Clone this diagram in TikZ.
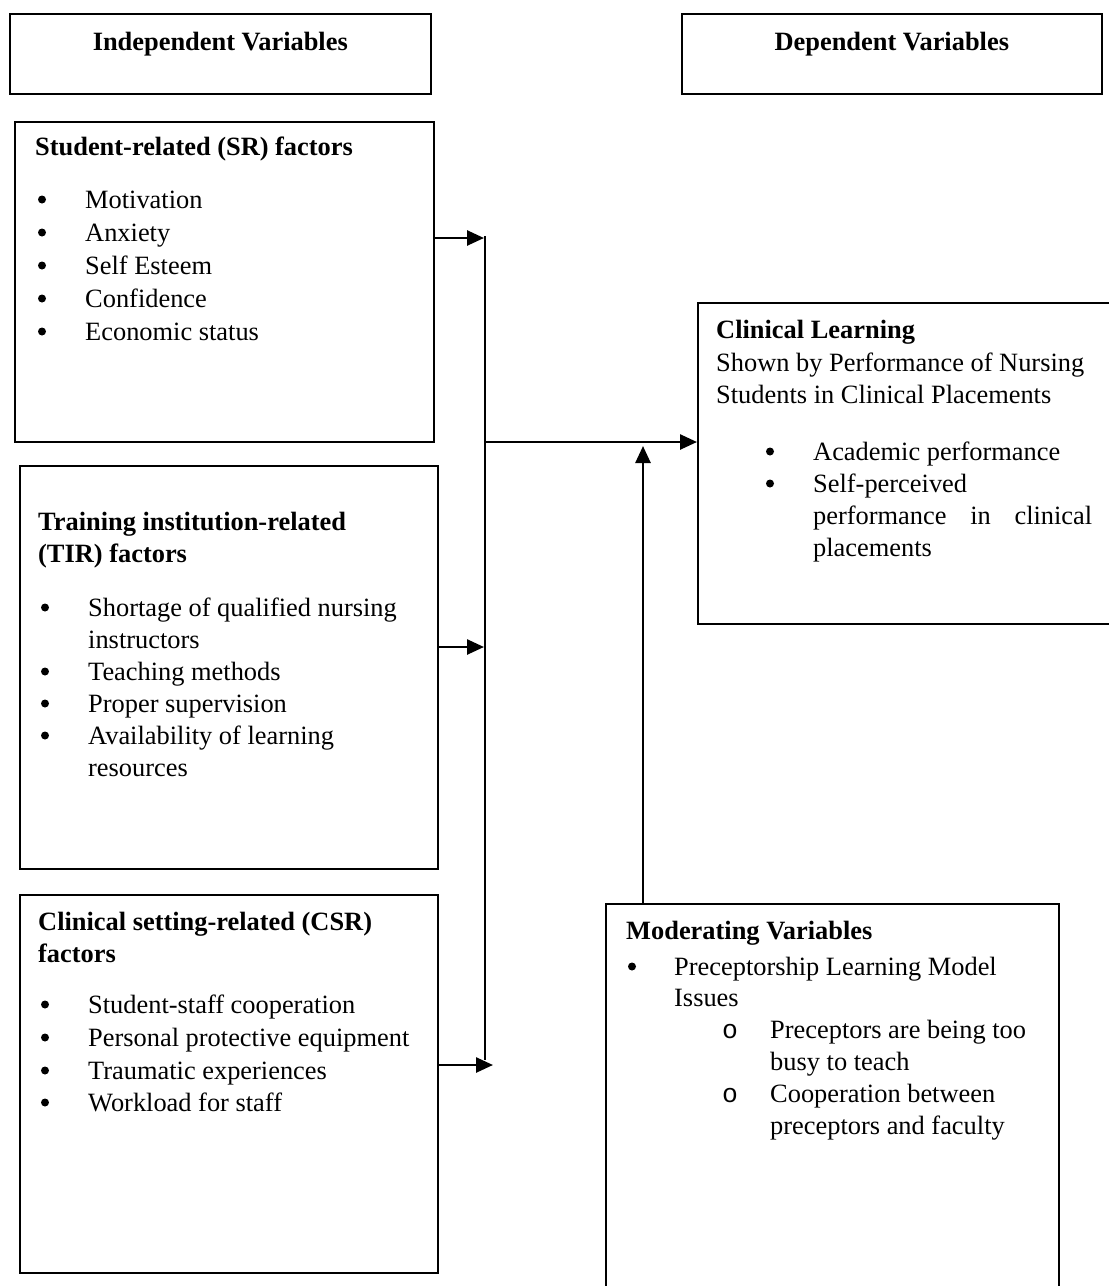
\documentclass[tikz,border=0pt]{standalone}
\usepackage{fontspec}
\setmainfont{Liberation Serif}
\newfontfamily\monof{Liberation Mono}
\usetikzlibrary{arrows.meta,calc}
\tikzset{
  boxn/.style={draw, line width=1.6pt, inner sep=0pt, anchor=north west},
  txt/.style={anchor=base west, inner sep=0pt, font=\fontsize{26.4}{33}\selectfont},
  hd/.style={anchor=base west, inner sep=0pt, font=\fontsize{26.4}{33}\selectfont\bfseries},
  hdc/.style={anchor=base, inner sep=0pt, font=\fontsize{26.4}{33}\selectfont\bfseries},
  dot/.style={circle, fill=black, inner sep=0pt, minimum size=8pt},
  arr/.style={line width=2.6pt, -{Triangle[length=17pt,width=15pt]}},
  bus/.style={line width=2pt}
}
\newcommand\bitem[5]{\node[dot] (#1b) at ($(#2,#4)+(4,-8.5)$) {}; \node[txt] (#1) at (#3,#4) {#5};}
\newcommand\oitem[5]{\node[txt] (#1b) at (#2,#4) {\monof o}; \node[txt] (#1) at (#3,#4) {#5};}
\begin{document}
\begin{tikzpicture}[x=1pt,y=-1pt]
\fill[white] (0,0) rectangle (1109,1286);
\useasboundingbox (0,0) rectangle (1109,1286);
\clip (0,0) rectangle (1109,1286);

% header boxes
\node[boxn, minimum width=421pt, minimum height=80pt] (ind) at (9,13) {};
\node[hdc] (indt) at ($(ind.north)+(0,37)$) {Independent Variables};
\node[boxn, minimum width=420pt, minimum height=80pt] (dep) at (681,13) {};
\node[hdc] (dept) at ($(dep.north)+(0,37)$) {Dependent Variables};

% SR box
\node[boxn, minimum width=419pt, minimum height=320pt] (sr) at (14,121) {};
\node[hd] (srh) at (35,155) {Student-related (SR) factors};
\bitem{sr1}{38}{85}{208}{Motivation}
\bitem{sr2}{38}{85}{241}{Anxiety}
\bitem{sr3}{38}{85}{274}{Self Esteem}
\bitem{sr4}{38}{85}{307}{Confidence}
\bitem{sr5}{38}{85}{340}{Economic status}

% TIR box
\node[boxn, minimum width=418pt, minimum height=403pt] (tir) at (19,465) {};
\node[hd] (tih1) at (38,530) {Training institution-related};
\node[hd] (tih2) at (38,562) {(TIR) factors};
\bitem{ti1}{41}{88}{616}{Shortage of qualified nursing}
\node[txt] (ti1c) at (88,648) {instructors};
\bitem{ti2}{41}{88}{680}{Teaching methods}
\bitem{ti3}{41}{88}{712}{Proper supervision}
\bitem{ti4}{41}{88}{744}{Availability of learning}
\node[txt] (ti4c) at (88,776) {resources};

% CSR box
\node[boxn, minimum width=418pt, minimum height=378pt] (csr) at (19,894) {};
\node[hd] (csh1) at (38,930) {Clinical setting-related (CSR)};
\node[hd] (csh2) at (38,962) {factors};
\bitem{cs1}{41}{88}{1013}{Student-staff cooperation}
\bitem{cs2}{41}{88}{1046}{Personal protective equipment}
\bitem{cs3}{41}{88}{1079}{Traumatic experiences}
\bitem{cs4}{41}{88}{1111}{Workload for staff}

% Clinical learning box
\node[boxn, minimum width=420pt, minimum height=321pt] (cl) at (697,302) {};
\node[hd] (clh) at (716,338) {Clinical Learning};
\node[txt] (cl1) at (716,371) {Shown by Performance of Nursing};
\node[txt] (cl2) at (716,403) {Students in Clinical Placements};
\bitem{cb1}{766}{813}{460}{Academic performance}
\bitem{cb2}{766}{813}{492}{Self-perceived}
\node[txt] (cb2c) at (813,524) {\makebox[279pt][s]{performance in clinical}};
\node[txt] (cb2d) at (813,556) {placements};

% Moderating box
\node[boxn, minimum width=453pt, minimum height=400pt] (mod) at (605,903) {};
\node[hd] (modh) at (626,939) {Moderating Variables};
\bitem{mo1}{628}{674}{975}{Preceptorship Learning Model}
\node[txt] (mo1c) at (674,1006) {Issues};
\oitem{mo2}{722}{770}{1038}{Preceptors are being too}
\node[txt] (mo2c) at (770,1070) {busy to teach};
\oitem{mo3}{722}{770}{1102}{Cooperation between}
\node[txt] (mo3c) at (770,1134) {preceptors and faculty};

% connectors
\coordinate (bt) at (485,236);
\coordinate (bb) at (485,1060);
\coordinate (j1) at (484,238);
\coordinate (j2) at (484,647);
\coordinate (j3) at (493,1065);
\coordinate (h0) at (486,442);
\coordinate (u) at (643,446);
\draw[bus] (bt) -- (bb);
\draw[arr] (sr.east |- j1) -- (j1);
\draw[arr] (tir.east |- j2) -- (j2);
\draw[arr] (csr.east |- j3) -- (j3);
\draw[arr] (h0) -- (cl.west |- h0);
\draw[arr] (u |- mod.north) -- (u);
\end{tikzpicture}
\end{document}
